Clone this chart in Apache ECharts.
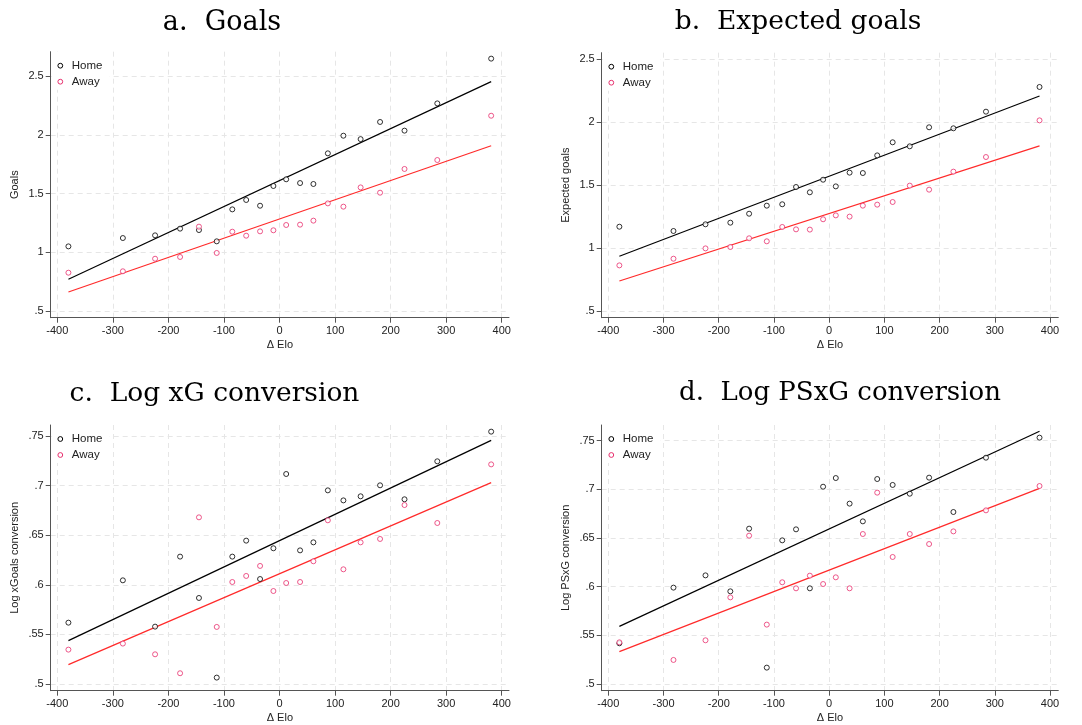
<!DOCTYPE html>
<html><head><meta charset="utf-8">
<script src="https://cdn.jsdelivr.net/npm/echarts@6/dist/echarts.min.js"></script>
<style>html,body{margin:0;padding:0;background:#fff}#c{width:1082px;height:725px}</style>
</head><body><div id="c"></div>
<script>
// Elo bins (shared by all panels)
const elo = [-380,-282,-224,-179,-145,-113,-85,-60,-35,-11,12,37,61,87,115,146,181,225,284,381];
const xTicks = [-400,-300,-200,-100,0,100,200,300,400];

const goalsHome = [1.050,1.121,1.144,1.201,1.189,1.093,1.365,1.445,1.396,1.564,1.621,1.589,1.581,1.842,1.992,1.963,2.109,2.035,2.267,2.648];
const goalsAway = [0.826,0.838,0.945,0.960,1.218,0.994,1.175,1.141,1.178,1.187,1.232,1.235,1.269,1.416,1.388,1.552,1.507,1.709,1.785,2.162];
const xgHome = [1.169,1.135,1.188,1.201,1.272,1.336,1.347,1.484,1.442,1.542,1.489,1.598,1.595,1.735,1.839,1.807,1.958,1.950,2.082,2.278];
const xgAway = [0.862,0.915,0.997,1.008,1.077,1.053,1.167,1.148,1.146,1.228,1.259,1.249,1.336,1.344,1.365,1.495,1.463,1.606,1.722,2.013];
const convHome = [0.5618,0.6045,0.5578,0.6284,0.5867,0.5064,0.6284,0.6445,0.6058,0.6368,0.7117,0.6347,0.6428,0.6952,0.6851,0.6892,0.7003,0.6862,0.7245,0.7544];
const convAway = [0.5346,0.5407,0.5299,0.5108,0.6680,0.5575,0.6028,0.6089,0.6190,0.5937,0.6018,0.6028,0.6237,0.6650,0.6156,0.6428,0.6462,0.6804,0.6623,0.7214];
const psHome = [0.5418,0.5990,0.6116,0.5952,0.6596,0.5168,0.6476,0.6589,0.5983,0.7027,0.7116,0.6853,0.6671,0.7106,0.7045,0.6955,0.7120,0.6767,0.7325,0.7531];
const psAway = [0.5428,0.5247,0.5449,0.5890,0.6524,0.5610,0.6045,0.5983,0.6113,0.6027,0.6096,0.5983,0.6541,0.6966,0.6305,0.6541,0.6438,0.6568,0.6784,0.7034];

// Linear-fit lines, endpoints
const fitX = [-380, 381];
const goalsFitHome = [0.770, 2.452];
const goalsFitAway = [0.662, 1.907];
const xgFitHome = [0.934, 2.206];
const xgFitAway = [0.738, 1.810];
const convFitHome = [0.5437, 0.7456];
const convFitAway = [0.5195, 0.7030];
const psFitHome = [0.5592, 0.7596];
const psFitAway = [0.5332, 0.7010];

const titles = ['a.  Goals', 'b.  Expected goals', 'c.  Log xG conversion', 'd.  Log PSxG conversion'];
const yNames = ['Goals', 'Expected goals', 'Log xGoals conversion', 'Log PSxG conversion'];
const legendNames = ['Home', 'Away'];
const yTicksGoals = [0.5, 1, 1.5, 2, 2.5];
const yTicksConv = [0.5, 0.55, 0.6, 0.65, 0.7, 0.75];

const panels = [
  {grid:{left:50.7, top:51.7, width:458.3, height:266}, x:[-411.9,413.1], y:[0.443,2.707], yt:yTicksGoals, h:goalsHome, a:goalsAway, fh:goalsFitHome, fa:goalsFitAway, tx:222, ty:23, fs:27},
  {grid:{left:601.7, top:52.7, width:456.6, height:265}, x:[-412,415], y:[0.4468,2.55], yt:yTicksGoals, h:xgHome, a:xgAway, fh:xgFitHome, fa:xgFitAway, tx:798, ty:22, fs:26.5},
  {grid:{left:50.7, top:425, width:458.3, height:265.7}, x:[-411.9,413.1], y:[0.4932,0.7611], yt:yTicksConv, h:convHome, a:convAway, fh:convFitHome, fa:convFitAway, tx:214.5, ty:394, fs:26.5},
  {grid:{left:601.7, top:425, width:456.6, height:265.7}, x:[-412,415], y:[0.4931,0.7661], yt:yTicksConv, h:psHome, a:psAway, fh:psFitHome, fa:psFitAway, tx:840, ty:393, fs:26}
];

const SANS = 'Liberation Sans, Arial, sans-serif';
const AXIS = '#555';
const GRIDC = '#e6e6e6';
const HOME = '#000000';
const AWAY = '#e8306e';
const FITA = '#ff2a2a';

function fmt(v){ return String(+v.toFixed(3)).replace(/^0\./,'.'); }

const grids=[], xAxes=[], yAxes=[], series=[], graphics=[];
panels.forEach((p,i)=>{
  grids.push(p.grid);
  xAxes.push({type:'value', gridIndex:i, min:p.x[0], max:p.x[1],
    name:'Δ Elo', nameLocation:'middle', nameGap:22,
    nameTextStyle:{fontFamily:SANS, fontSize:11, color:'#222'},
    axisLine:{show:true, onZero:false, lineStyle:{color:AXIS, width:1}},
    axisTick:{show:true, length:5, customValues:xTicks, lineStyle:{color:AXIS}},
    axisLabel:{customValues:xTicks, fontFamily:SANS, fontSize:11, color:'#222', margin:8, formatter:v=>String(Math.round(v))},
    splitLine:{show:true, lineStyle:{color:GRIDC, type:[5,4], width:1}}
  });
  yAxes.push({type:'value', gridIndex:i, min:p.y[0], max:p.y[1],
    name:yNames[i], nameLocation:'middle', nameGap:30,
    nameTextStyle:{fontFamily:SANS, fontSize:11, color:'#222'},
    axisLine:{show:true, onZero:false, lineStyle:{color:AXIS, width:1}},
    axisTick:{show:true, length:5, customValues:p.yt, lineStyle:{color:AXIS}},
    axisLabel:{customValues:p.yt, fontFamily:SANS, fontSize:11, color:'#222', margin:7, formatter:fmt},
    splitLine:{show:true, lineStyle:{color:GRIDC, type:[5,4], width:1}}
  });
  series.push({type:'scatter', name:legendNames[0], xAxisIndex:i, yAxisIndex:i, symbol:'circle', symbolSize:5,
    itemStyle:{color:'#fff', borderColor:HOME, borderWidth:1}, data:elo.map((x,k)=>[x,p.h[k]]), z:3, silent:true});
  series.push({type:'scatter', name:legendNames[1], xAxisIndex:i, yAxisIndex:i, symbol:'circle', symbolSize:5,
    itemStyle:{color:'#fff', borderColor:AWAY, borderWidth:1}, data:elo.map((x,k)=>[x,p.a[k]]), z:3, silent:true});
  series.push({type:'line', name:'fitH'+i, xAxisIndex:i, yAxisIndex:i, showSymbol:false, symbol:'none',
    lineStyle:{color:HOME, width:1.2}, data:fitX.map((x,k)=>[x,p.fh[k]]), z:2, silent:true});
  series.push({type:'line', name:'fitA'+i, xAxisIndex:i, yAxisIndex:i, showSymbol:false, symbol:'none',
    lineStyle:{color:FITA, width:1.2}, data:fitX.map((x,k)=>[x,p.fa[k]]), z:2, silent:true});
  graphics.push({type:'text', x:p.tx, y:p.ty, style:{text:titles[i], fontFamily:'DejaVu Serif, serif', fontSize:p.fs, fill:'#000', align:'center', verticalAlign:'middle'}});
  // legend box (white background) with markers + text
  const lx = p.grid.left + 9.6, ly = p.grid.top + 14;
  graphics.push({type:'rect', shape:{x:p.grid.left+1, y:p.grid.top, width:58, height:38}, style:{fill:'#fff'}, z:90});
  graphics.push({type:'circle', shape:{cx:lx, cy:ly, r:2.4}, style:{fill:'#fff', stroke:HOME, lineWidth:1}, z:100});
  graphics.push({type:'circle', shape:{cx:lx, cy:ly+16, r:2.4}, style:{fill:'#fff', stroke:AWAY, lineWidth:1}, z:100});
  graphics.push({type:'text', x:lx+11.5, y:ly, style:{text:legendNames[0], fontFamily:SANS, fontSize:11.5, fill:'#222', verticalAlign:'middle'}, z:100});
  graphics.push({type:'text', x:lx+11.5, y:ly+16, style:{text:legendNames[1], fontFamily:SANS, fontSize:11.5, fill:'#222', verticalAlign:'middle'}, z:100});
});

const chart = echarts.init(document.getElementById('c'), null, {renderer:'canvas'});
chart.setOption({
  animation:false, backgroundColor:'#fff',
  grid:grids, xAxis:xAxes, yAxis:yAxes, series:series, graphic:graphics
});
</script></body></html>
